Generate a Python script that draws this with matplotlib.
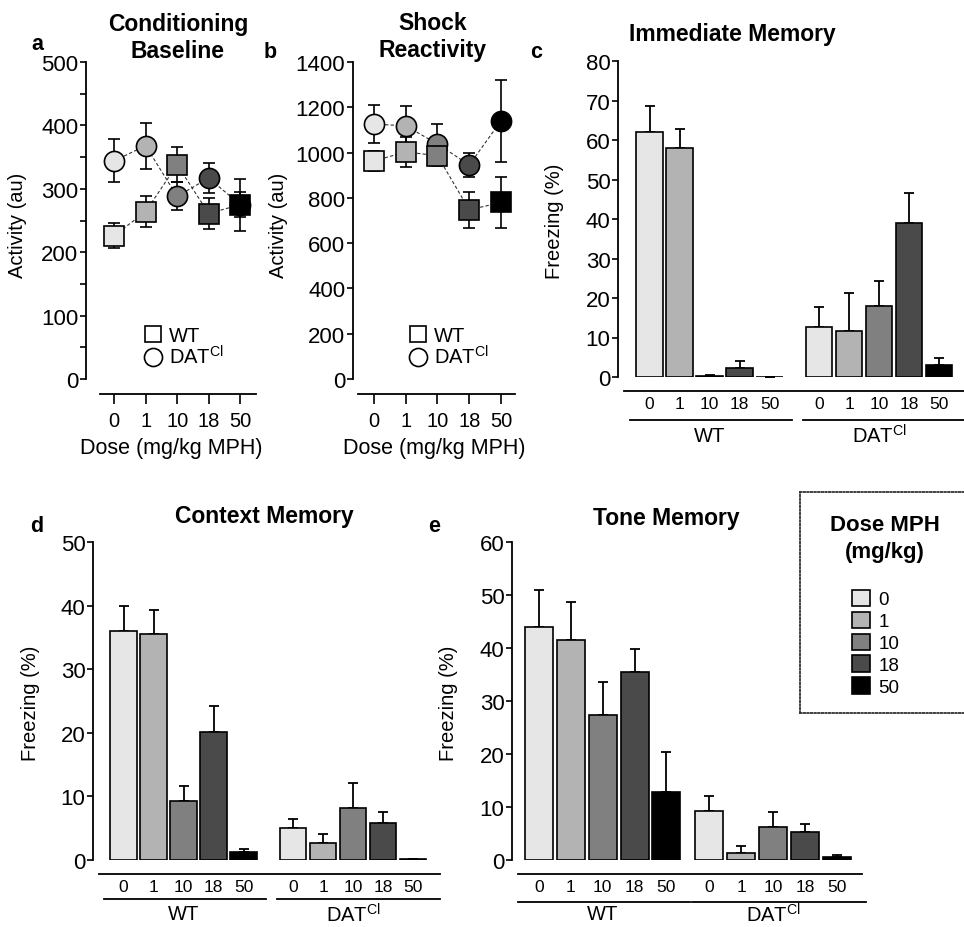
import numpy as np
import matplotlib
matplotlib.use("Agg")
import matplotlib.pyplot as plt
from matplotlib.lines import Line2D
from matplotlib.patches import Patch

plt.rcParams['font.family'] = ['Liberation Sans', 'DejaVu Sans']

# ---- data ----
doses = ['0', '1', '10', '18', '50']
dose_colors = ['#e6e6e6', '#b3b3b3', '#808080', '#4a4a4a', '#000000']
dat_label = 'DAT$^{\\mathregular{Cl}}$'

# a: conditioning baseline (activity, au)
base_wt = [226, 264, 338, 261, 275]
base_wt_err = [20, 25, 28, 25, 41]
base_dat = [344, 368, 288, 317, 275]
base_dat_err = [34, 36, 22, 24, 20]

# b: shock reactivity (activity, au)
shock_wt = [963, 1003, 986, 747, 780]
shock_wt_err = [45, 66, 45, 80, 113]
shock_dat = [1126, 1118, 1038, 945, 1140]
shock_dat_err = [84, 89, 88, 55, 180]

# c: immediate memory (freezing %)
imm_wt = [62.1, 58.0, 0.3, 2.4, 0.1]
imm_wt_err = [6.6, 4.8, 0.2, 1.7, 0.0]
imm_dat = [12.6, 11.6, 18.1, 39.0, 3.0]
imm_dat_err = [5.0, 9.6, 6.1, 7.6, 1.8]

# d: context memory (freezing %)
ctx_wt = [36.0, 35.5, 9.3, 20.1, 1.2]
ctx_wt_err = [3.9, 3.8, 2.4, 4.1, 0.5]
ctx_dat = [5.1, 2.6, 8.2, 5.8, 0.1]
ctx_dat_err = [1.4, 1.5, 3.9, 1.7, 0.05]

# e: tone memory (freezing %)
tone_wt = [44.0, 41.5, 27.4, 35.5, 12.8]
tone_wt_err = [6.9, 7.1, 6.2, 4.3, 7.5]
tone_dat = [9.2, 1.4, 6.3, 5.2, 0.5]
tone_dat_err = [2.8, 1.2, 2.7, 1.6, 0.4]

W, H = 964, 928
fig = plt.figure(figsize=(W / 100, H / 100), dpi=100)


def fx(px):
    return px / W


def fy(py):
    return 1 - py / H


def add_ax(left, top, right, bottom):
    return fig.add_axes([fx(left), fy(bottom), (right - left) / W, (bottom - top) / H])


def style_ax(ax, ymax, ystep):
    for s in ['top', 'right']:
        ax.spines[s].set_visible(False)
    ax.spines['left'].set_linewidth(1.3)
    ax.spines['bottom'].set_linewidth(1.3)
    ax.spines['bottom'].set_position(('outward', 10))
    ax.set_ylim(0, ymax)
    ax.set_yticks(np.arange(0, ymax + 1, ystep))
    ax.tick_params(axis='y', length=4.5, width=1.2, pad=1, labelsize=16)


def line_panel(ax, wt, wt_err, dat, dat_err, ymax, ystep, xlim, x0):
    style_ax(ax, ymax, ystep)
    ax.spines['bottom'].set_position(('outward', 11))
    x = np.arange(len(doses))
    ax.set_xlim(*xlim)
    ax.spines['bottom'].set_bounds(x0, xlim[1])
    ax.set_xticks(x)
    ax.set_xticklabels(doses)
    ax.tick_params(axis='x', length=7, width=1.2, pad=5, labelsize=14.5)
    for vals, err, mk, ms in [(dat, dat_err, 'o', 14.5), (wt, wt_err, 's', 14.5)]:
        ax.plot(x, vals, ls=(0, (3, 2)), lw=0.8, color='#333333', zorder=1)
        ax.errorbar(x, vals, yerr=err, fmt='none', ecolor='black', elinewidth=1.2,
                    capsize=4, capthick=1.2, zorder=2)
        for xi, v, c in zip(x, vals, dose_colors):
            ax.plot(xi, v, marker=mk, ms=ms, mfc=c, mec='black', mew=1.2,
                    ls='none', zorder=3, clip_on=False)
    handles = [Line2D([], [], marker='s', ms=12, mfc='white', mec='black', mew=1.2, ls='none'),
               Line2D([], [], marker='o', ms=13, mfc='white', mec='black', mew=1.2, ls='none')]
    ax.legend(handles, ['WT', dat_label], loc='upper left', bbox_to_anchor=(0.27, 0.2),
              frameon=False, fontsize=14.5, handletextpad=0.25, labelspacing=0.0,
              borderpad=0, handlelength=1.1)
    ax.set_xlabel('Dose (mg/kg MPH)', fontsize=15.5, labelpad=5)


def bar_panel(ax, wt, wt_err, dat, dat_err, ymax, ystep, xlim, gap, line_px=41, lab_px=57):
    style_ax(ax, ymax, ystep)
    ax.set_xlim(*xlim)
    ax.spines['bottom'].set_bounds(xlim[0] + 0.2, xlim[1])
    x_wt = np.arange(len(doses))
    x_dat = x_wt + gap
    for xs, vals, err in [(x_wt, wt, wt_err), (x_dat, dat, dat_err)]:
        ax.bar(xs, vals, width=0.88, color=dose_colors, edgecolor='black', linewidth=1.2, zorder=2)
        ax.errorbar(xs, vals, yerr=[np.zeros(len(err)), err], fmt='none', ecolor='black',
                    elinewidth=1.3, capsize=3.5, capthick=1.3, zorder=1)
    ax.set_xticks(np.concatenate([x_wt, x_dat]))
    ax.set_xticklabels(doses * 2)
    ax.tick_params(axis='x', length=0, pad=4, labelsize=12.5)
    h = ax.get_position().height * H
    trans = ax.get_xaxis_transform()
    for (lo, hi), lab, cx in [((-0.65, 4.75), 'WT', 2.0), ((gap - 0.55, gap + 4.9), dat_label, gap + 2.0)]:
        ax.plot([lo, hi], [-line_px / h] * 2, color='black', lw=1.3, transform=trans, clip_on=False)
        ax.text(cx, -lab_px / h, lab, transform=trans, ha='center', va='center', fontsize=14.5)


# ---- panel a ----
ax_a = add_ax(86, 63, 256, 380)
line_panel(ax_a, base_wt, base_wt_err, base_dat, base_dat_err, 500, 100, (-0.89, 4.5), -0.45)
ax_a.set_yticks(np.arange(50, 500, 100), minor=True)
ax_a.tick_params(axis='y', which='minor', length=4.5, width=1.2)

# ---- panel b ----
ax_b = add_ax(353, 63, 515, 380)
line_panel(ax_b, shock_wt, shock_wt_err, shock_dat, shock_dat_err, 1400, 200, (-0.66, 4.44), -0.5)

# ---- panel c ----
ax_c = add_ax(618, 62, 964, 378)
bar_panel(ax_c, imm_wt, imm_wt_err, imm_dat, imm_dat_err, 80, 10, (-1.05, 10.48), 5.65,
          line_px=43, lab_px=58)

# ---- panel d ----
ax_d = add_ax(93, 543, 440, 861)
bar_panel(ax_d, ctx_wt, ctx_wt_err, ctx_dat, ctx_dat_err, 50, 10, (-1.02, 10.55), 5.65,
          line_px=39, lab_px=54)

# ---- panel e ----
ax_e = add_ax(512, 543, 862, 861)
bar_panel(ax_e, tone_wt, tone_wt_err, tone_dat, tone_dat_err, 60, 10, (-0.85, 10.14), 5.35,
          line_px=42, lab_px=54)

# ---- y labels ----
for (px, py), lab in [((18, 225), 'Activity (au)'), ((279, 225), 'Activity (au)'),
                      ((554, 221), 'Freezing (%)'), ((30, 703), 'Freezing (%)'),
                      ((448, 703), 'Freezing (%)')]:
    fig.text(fx(px), fy(py), lab, rotation=90, ha='center', va='center', fontsize=14.5)

# ---- titles and panel letters ----
titles = [((178, 38), 'Conditioning\nBaseline'), ((433, 37), 'Shock\nReactivity'),
          ((732, 35), 'Immediate Memory'), ((264, 517), 'Context Memory'),
          ((666, 518), 'Tone Memory')]
for (px, py), t in titles:
    fig.text(fx(px), fy(py), t, ha='center', va='center', fontsize=16.5, fontweight='bold',
             linespacing=1.2)
for (px, py), t in [((37, 44), 'a'), ((270, 52), 'b'), ((536, 53), 'c'),
                    ((37, 527), 'd'), ((434, 527), 'e')]:
    fig.text(fx(px), fy(py), t, ha='center', va='center', fontsize=15.5, fontweight='bold')

# ---- dose legend box ----
lax = fig.add_axes([fx(800), fy(714), 170 / W, 221 / H])
lax.set_xticks([])
lax.set_yticks([])
lax.patch.set_alpha(0)
lax.spines['right'].set_visible(False)
for s in lax.spines.values():
    s.set_linestyle((0, (0.8, 1.2)))
    s.set_linewidth(1.3)
    s.set_color('#333333')
lax.text((885 - 800) / 170, (714 - 539) / 221, 'Dose MPH\n(mg/kg)', transform=lax.transAxes,
         ha='center', va='center', fontsize=16, fontweight='bold', linespacing=1.35)
dose_handles = [Patch(facecolor=c, edgecolor='black', linewidth=1.2) for c in dose_colors]
lax.legend(dose_handles, doses, loc='upper left', bbox_to_anchor=(0.25, 0.6), frameon=False,
           fontsize=13.5, handlelength=0.95, handleheight=0.95, handletextpad=0.45,
           labelspacing=0.18, borderpad=0)

fig.savefig('out.png', dpi=100)
